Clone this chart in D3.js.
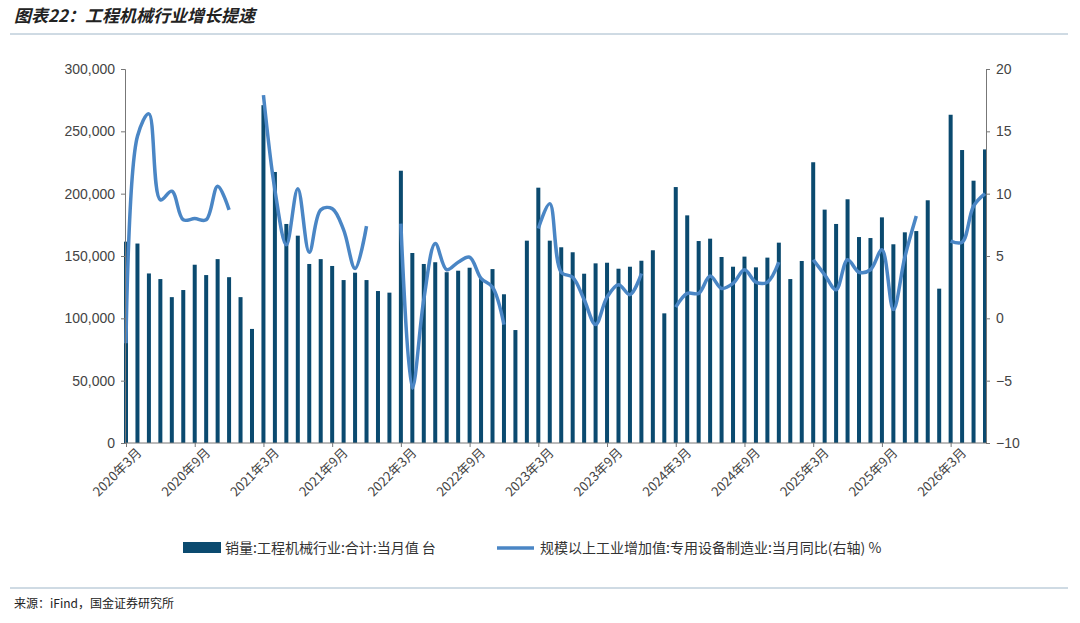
<!doctype html>
<html>
<head>
<meta charset="utf-8">
<style>
  body { margin: 0; background: #fff; font-family: "Noto Sans CJK SC", "Noto Sans", sans-serif; }
  svg text { fill: #333; }
</style>
</head>
<body>
<svg id="chart" width="1080" height="623"></svg>
<script src="https://cdn.jsdelivr.net/npm/d3@7/dist/d3.min.js"></script>
<script>
// months 2020-03 .. 2026-06
const months = [];
for (let y = 2020; y <= 2026; y++) {
  for (let m = 1; m <= 12; m++) {
    if ((y === 2020 && m < 3) || (y === 2026 && m > 6)) continue;
    months.push(y + "年" + m + "月");
  }
}

// 销量:工程机械行业:合计:当月值 台
const sales = [
  161500, 160000, 136000, 131500, 117000, 122700, 143000, 134700, 147500, 133000,
  117000, 91500, 271000, 217400, 175700, 166300, 143600, 147500, 142000, 130700, 136600, 130700,
  121900, 120600, 218400, 152400, 143600, 145000, 137000, 138200, 140600, 132000, 139500, 119300,
  90600, 162300, 204800, 162300, 157000, 153000, 135800, 144100, 144600, 139800, 141400, 146200,
  154600, 104000, 205300, 182600, 162000, 163900, 149200, 141400, 149500, 140900, 148700, 160700,
  131500, 146000, 225200, 187200, 175700, 195500, 165200, 164400, 181000, 159400, 169000, 170000,
  194700, 123800, 263300, 235000, 210400, 235500
];

// 规模以上工业增加值:专用设备制造业:当月同比(右轴) %
const growth = [
  -2.0, 14.6, 16.4, 9.5, 10.2, 7.9, 8.0, 7.9, 10.6, 8.7,
  null, null, 17.9, 10.3, 5.9, 10.4, 5.3, 8.7, 8.8, 7.1, 4.0, 7.4,
  null, null, 7.6, -5.6, 1.5, 6.0, 3.9, 4.5, 4.9, 3.2, 2.5, -0.5,
  null, null, 7.2, 9.2, 3.7, 3.3, 1.5, -0.5, 1.7, 2.7, 1.9, 3.6,
  null, null, 0.9, 2.0, 2.0, 3.4, 2.4, 2.8, 3.9, 2.9, 2.9, 4.5,
  null, null, 4.7, 3.5, 2.3, 4.7, 3.7, 3.9, 5.5, 0.7, 4.9, 8.2,
  null, null, 6.2, 6.1, 9.0, 10.0
];

const leftTicks = [0, 50000, 100000, 150000, 200000, 250000, 300000];
const rightTicks = [-10, -5, 0, 5, 10, 15, 20];

const svg = d3.select("#chart");
const L = 125, R = 986, T = 69, B = 443;
const barColor = "#0b4a6f", lineColor = "#4a86c5";

const x = d3.scaleLinear().domain([0, months.length - 1]).range([L + 1, R - 1]);
const yL = d3.scaleLinear().domain([0, 300000]).range([B, T]);
const yR = d3.scaleLinear().domain([-10, 20]).range([B, T]);

// title
svg.append("text").attr("x", 14).attr("y", 22)
  .style("font-size", "17px").style("font-weight", "bold").style("font-style", "italic")
  .style("fill", "#222").text("图表22：工程机械行业增长提速");
svg.append("line").attr("x1", 10).attr("x2", 1068).attr("y1", 34).attr("y2", 34)
  .attr("stroke", "#9fb6c8").attr("stroke-width", 1);

// bars
svg.append("g").selectAll("rect").data(sales).join("rect")
  .attr("x", (d, i) => x(i) - 2).attr("width", 4)
  .attr("y", d => yL(d)).attr("height", d => B - yL(d))
  .attr("fill", barColor);

// line
const line = d3.line()
  .defined(d => d !== null)
  .x((d, i) => x(i)).y(d => yR(d))
  .curve(d3.curveCatmullRom.alpha(0.5));
svg.append("path").datum(growth)
  .attr("d", line).attr("fill", "none")
  .attr("stroke", lineColor).attr("stroke-width", 3.5).attr("stroke-linejoin", "round");

// axes
const axL = svg.append("g").attr("transform", `translate(${L},0)`)
  .call(d3.axisLeft(yL).tickValues(leftTicks).tickSize(4).tickFormat(d3.format(",")));
const axR = svg.append("g").attr("transform", `translate(${R},0)`)
  .call(d3.axisRight(yR).tickValues(rightTicks).tickSize(4));
const axB = svg.append("g").attr("transform", `translate(0,${B})`)
  .call(d3.axisBottom(x).tickValues(d3.range(0, months.length, 6)).tickSize(4)
    .tickFormat(i => months[i]));
axL.selectAll("text").attr("x", -10);
axR.selectAll("text").attr("x", 10);
[axL, axR, axB].forEach(a => {
  a.selectAll("path, line").attr("stroke", "#777");
  a.selectAll("text").style("font-size", "14px").style("font-family", "Liberation Sans, Arial, sans-serif").style("fill", "#444");
});
axB.select(".domain").attr("d", `M${L},0H${R}`);
axB.selectAll("text")
  .style("font-family", "Noto Sans CJK SC, sans-serif").style("font-size", "13px")
  .attr("text-anchor", "end").attr("dx", "0.3em").attr("dy", "0.9em")
  .attr("transform", "rotate(-45)");

// legend
const lg = svg.append("g").attr("transform", "translate(0,548)");
lg.append("rect").attr("x", 183).attr("y", -6).attr("width", 38).attr("height", 11).attr("fill", barColor);
lg.append("text").attr("x", 225).attr("y", 5).style("font-size", "14px").text("销量:工程机械行业:合计:当月值 台");
lg.append("line").attr("x1", 497).attr("x2", 534).attr("y1", 0).attr("y2", 0)
  .attr("stroke", lineColor).attr("stroke-width", 3.5);
lg.append("text").attr("x", 540).attr("y", 5).style("font-size", "14px").text("规模以上工业增加值:专用设备制造业:当月同比(右轴) %");

// footer
svg.append("line").attr("x1", 10).attr("x2", 1068).attr("y1", 588).attr("y2", 588)
  .attr("stroke", "#9fb6c8").attr("stroke-width", 1);
svg.append("text").attr("x", 14).attr("y", 608).style("font-size", "12px").style("fill", "#222")
  .text("来源：iFind，国金证券研究所");
</script>
</body>
</html>
